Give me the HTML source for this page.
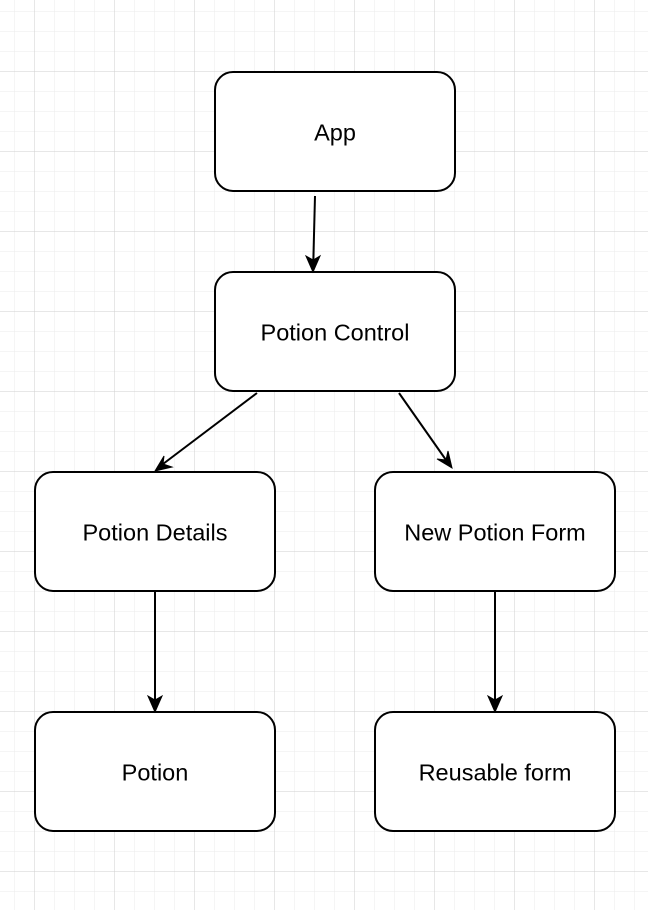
<!DOCTYPE html>
<html><head><meta charset="utf-8"><style>
html,body{margin:0;padding:0;background:#fff;}
svg{display:block;}
text{font-family:"Liberation Sans",Helvetica,Arial,sans-serif;font-size:23.5px;fill:#000;}
</style></head><body>
<svg width="648" height="910" viewBox="0 0 648 910" xmlns="http://www.w3.org/2000/svg">
<defs>
<pattern id="minor" width="20" height="20" patternUnits="userSpaceOnUse" x="14.5" y="11.5">
<path d="M0 0H20M0 0V20" stroke="#ebebeb" stroke-width="1" fill="none"/>
</pattern>
<pattern id="major" width="80" height="80" patternUnits="userSpaceOnUse" x="34.5" y="71.5">
<path d="M0 0H80M0 0V80" stroke="#cfcfcf" stroke-width="1" fill="none"/>
</pattern>
</defs>
<rect width="648" height="910" fill="url(#minor)"/>
<rect width="648" height="910" fill="url(#major)"/>
<g fill="#fff" stroke="#000" stroke-width="2">
<rect x="215" y="72" width="240" height="119" rx="18"/>
<rect x="215" y="272" width="240" height="119" rx="18"/>
<rect x="35" y="472" width="240" height="119" rx="18"/>
<rect x="375" y="472" width="240" height="119" rx="18"/>
<rect x="35" y="712" width="240" height="119" rx="18"/>
<rect x="375" y="712" width="240" height="119" rx="18"/>
</g>
<g stroke="#000" stroke-width="2" fill="none">
<line x1="315" y1="196" x2="313.3" y2="262"/>
<line x1="257" y1="393" x2="163" y2="464"/>
<line x1="399" y1="393" x2="446" y2="460"/>
<line x1="155" y1="592" x2="155" y2="702"/>
<line x1="495" y1="592" x2="495" y2="702"/>
</g>
<g fill="#000" stroke="#000" stroke-width="1" stroke-linejoin="miter">
<path d="M313 272 L306 256 L313.2 260 L320 256 Z"/>
<path d="M155 471 L164 456 L163 464 L172 467 Z"/>
<path d="M452 468 L437 459 L446 460 L448 451 Z"/>
<path d="M155 712 L148 696 L155 700 L162 696 Z"/>
<path d="M495 712 L488 696 L495 700 L502 696 Z"/>
</g>
<g text-anchor="middle">
<text x="335" y="140.5">App</text>
<text x="335" y="340.5">Potion Control</text>
<text x="155" y="540.5">Potion Details</text>
<text x="495" y="540.5">New Potion Form</text>
<text x="155" y="780.5">Potion</text>
<text x="495" y="780.5">Reusable form</text>
</g>
</svg>
</body></html>
